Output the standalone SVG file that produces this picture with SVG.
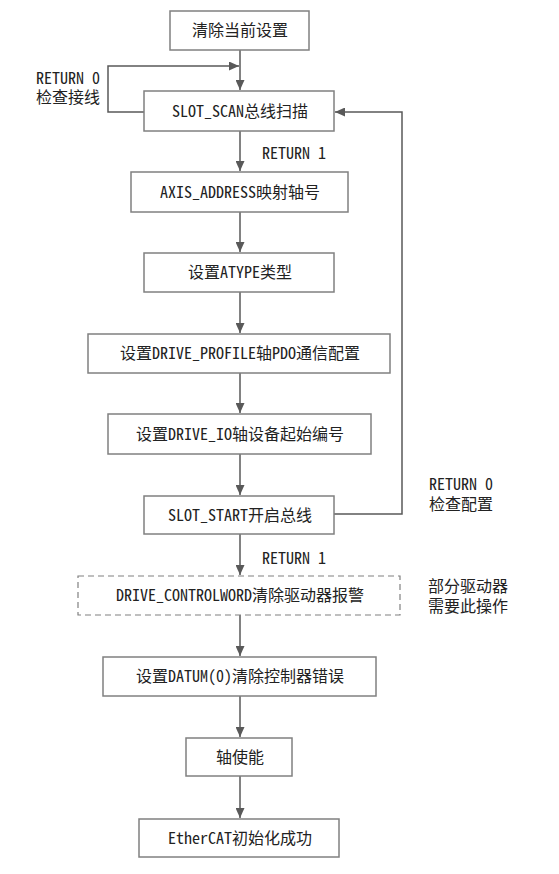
<svg xmlns="http://www.w3.org/2000/svg" width="559" height="874" viewBox="0 0 559 874">
<defs>
<style>
.box{fill:#fff;stroke:#808080;stroke-width:1.5}
.dash{fill:#fff;stroke:#808080;stroke-width:1.2;stroke-dasharray:6,4}
.t{font-family:"Noto Sans Mono CJK SC","Noto Sans CJK SC",monospace;font-size:16px;fill:#222}
.c{stroke:#595959;stroke-width:1.5;fill:none}
</style>
<marker id="ah" markerUnits="userSpaceOnUse" markerWidth="10" markerHeight="9" refX="10" refY="4.5" orient="auto">
<path d="M0,0 L10,4.5 L0,9 z" fill="#595959"/>
</marker>
</defs>
<g id="connectors">
<path class="c" d="M240,50 V90" marker-end="url(#ah)"/>
<path class="c" d="M144,112 H108 V66 H239" marker-end="url(#ah)"/>
<path class="c" d="M240,131 V171" marker-end="url(#ah)"/>
<path class="c" d="M240,212 V252" marker-end="url(#ah)"/>
<path class="c" d="M240,292 V333" marker-end="url(#ah)"/>
<path class="c" d="M240,373 V413" marker-end="url(#ah)"/>
<path class="c" d="M240,454 V495" marker-end="url(#ah)"/>
<path class="c" d="M240,534 V575" marker-end="url(#ah)"/>
<path class="c" d="M334,514 H402 V112 H335" marker-end="url(#ah)"/>
<path class="c" d="M240,615 V656" marker-end="url(#ah)"/>
<path class="c" d="M240,696 V737" marker-end="url(#ah)"/>
<path class="c" d="M240,776 V818" marker-end="url(#ah)"/>
</g>
<g id="n1"><rect class="box" x="170" y="11" width="139" height="39"/><text class="t" x="192" y="36">清除当前设置</text></g>
<g id="n2"><rect class="box" x="144" y="91" width="190" height="40"/><text class="t" x="172" y="117"><tspan>SLOT_SCAN</tspan><tspan>总线扫描</tspan></text></g>
<g id="n3"><rect class="box" x="131" y="172" width="217" height="40"/><text class="t" x="160" y="198"><tspan>AXIS_ADDRESS</tspan><tspan>映射轴号</tspan></text></g>
<g id="n4"><rect class="box" x="144" y="253" width="190" height="39"/><text class="t" x="188" y="278"><tspan>设置</tspan><tspan>ATYPE</tspan><tspan>类型</tspan></text></g>
<g id="n5"><rect class="box" x="88" y="334" width="302" height="39"/><text class="t" x="120" y="359"><tspan>设置</tspan><tspan>DRIVE_PROFILE</tspan><tspan>轴</tspan><tspan>PDO</tspan><tspan>通信配置</tspan></text></g>
<g id="n6"><rect class="box" x="108" y="414" width="263" height="40"/><text class="t" x="136" y="440"><tspan>设置</tspan><tspan>DRIVE_IO</tspan><tspan>轴设备起始编号</tspan></text></g>
<g id="n7"><rect class="box" x="144" y="496" width="190" height="38"/><text class="t" x="168" y="521"><tspan>SLOT_START</tspan><tspan>开启总线</tspan></text></g>
<g id="n8"><rect class="dash" x="78" y="576" width="322" height="39"/><text class="t" x="116" y="601"><tspan>DRIVE_CONTROLWORD</tspan><tspan>清除驱动器报警</tspan></text></g>
<g id="n9"><rect class="box" x="103" y="657" width="273" height="39"/><text class="t" x="136" y="682"><tspan>设置</tspan><tspan>DATUM(0)</tspan><tspan>清除控制器错误</tspan></text></g>
<g id="n10"><rect class="box" x="186" y="738" width="106" height="38"/><text class="t" x="216" y="763">轴使能</text></g>
<g id="n11"><rect class="box" x="139" y="819" width="200" height="38"/><text class="t" x="168" y="844"><tspan>EtherCAT</tspan><tspan>初始化成功</tspan></text></g>
<g id="labels">
<text class="t" x="36" y="84">RETURN 0</text>
<text class="t" x="36" y="103">检查接线</text>
<text class="t" x="262" y="159">RETURN 1</text>
<text class="t" x="429" y="490">RETURN 0</text>
<text class="t" x="429" y="510">检查配置</text>
<text class="t" x="262" y="564">RETURN 1</text>
<text class="t" x="428" y="592">部分驱动器</text>
<text class="t" x="428" y="612">需要此操作</text>
</g>
</svg>
